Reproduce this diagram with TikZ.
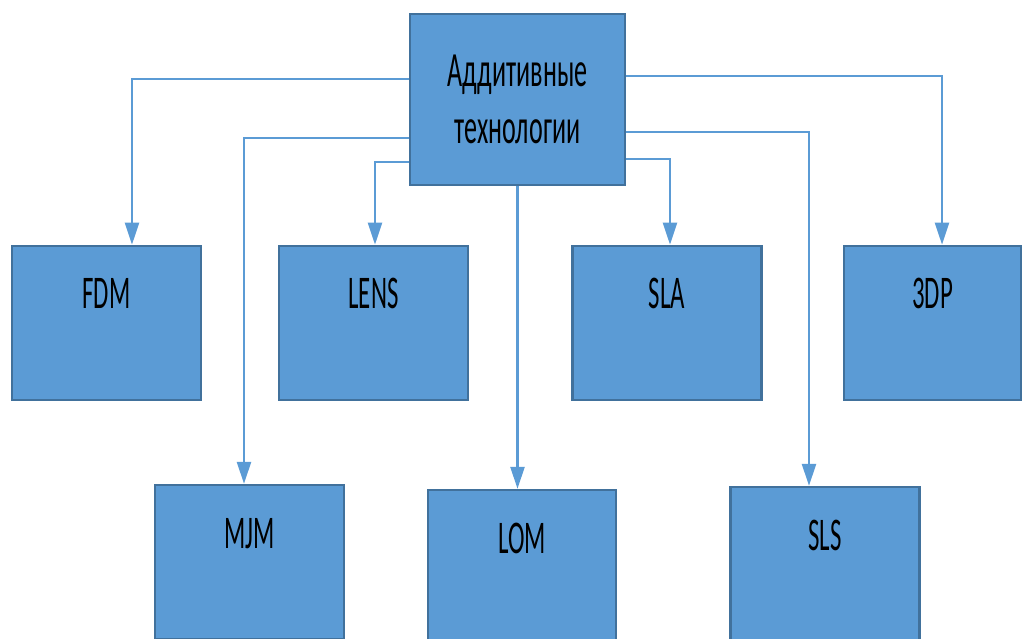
\documentclass[tikz,border=0pt]{standalone}
\usepackage{fontspec}
\newfontfamily\boxfont{Carlito}[FakeStretch=0.53]
\usepackage{tikz}
\usetikzlibrary{arrows.meta,positioning}
\definecolor{boxblue}{HTML}{5B9BD5}
\definecolor{boxedge}{HTML}{41719C}

\begin{document}
\begin{tikzpicture}[
            node distance=6.7cm,
            font=\boxfont\fontsize{40}{48}\selectfont,
            % Stili
            root/.style={rectangle, draw=boxedge, line width=2pt, fill=boxblue, minimum width=6.45cm, minimum height=5.13cm, align=center, inner sep=0pt, font=\boxfont\fontsize{42}{52}\selectfont},
            method/.style={rectangle, draw=boxedge, line width=2pt, fill=boxblue, minimum width=5.67cm, text height=1.89cm, text depth=2.73cm, inner sep=0pt},
            arrow/.style={draw=boxblue, line width=2pt, -{Triangle[length=0.66cm, width=0.42cm]}}
        ]
        \useasboundingbox (-15.525,2.985) rectangle (15.135,-16.185);

        % Nodi
        \node (top) [root] {Аддитивные\\[-0.1cm]технологии};

        \node (fdm) [method, below of=top, xshift=-12.33cm] {FDM};
        \node (lens) [method, below of=top, xshift=-4.32cm] {LENS};
        \node (sla) [method, below of=top, xshift=4.485cm] {SLA};
        \node (dp) [method, below of=top, xshift=12.45cm, minimum width=5.31cm] {3DP};

        \node (mjm) [method, below of=top, xshift=-8.04cm, yshift=-7.175cm] {MJM};
        \node (lom) [method, below of=top, xshift=0.135cm, yshift=-7.325cm, minimum width=5.64cm] {LOM};
        \node (sls) [method, below of=top, xshift=9.225cm, yshift=-7.235cm] {SLS};

        % Collegamenti
        \draw [arrow] ([yshift=0.615cm]top.west) -| ([xshift=0.765cm]fdm.north);
        \draw [arrow] ([yshift=-1.155cm]top.west) -| ([xshift=-0.165cm]mjm.north);
        \draw [arrow] ([yshift=-1.875cm]top.west) -| ([xshift=0.045cm]lens.north);
        \draw [arrow] (top.south) -- (top.south |- lom.north);
        \draw [arrow] ([yshift=-1.785cm]top.east) -| ([xshift=0.09cm]sla.north);
        \draw [arrow] ([yshift=-0.975cm]top.east) -| ([xshift=-0.48cm]sls.north);
        \draw [arrow] ([yshift=0.705cm]top.east) -| ([xshift=0.285cm]dp.north);

    \end{tikzpicture}
\end{document}
